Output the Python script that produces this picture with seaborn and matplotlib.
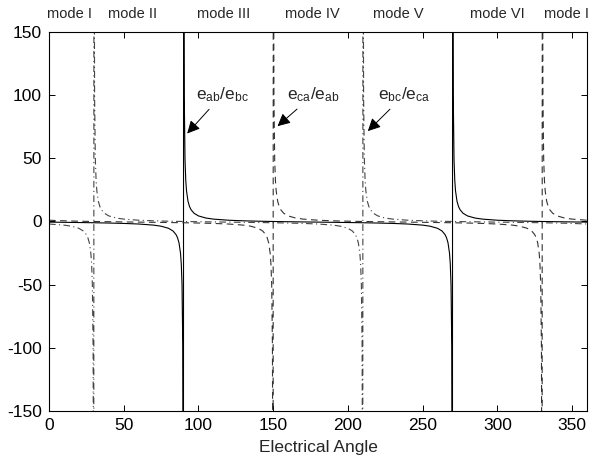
import numpy as np
import pandas as pd
import matplotlib
matplotlib.use('Agg')
import matplotlib.pyplot as plt
import seaborn as sns

# values (ratios of line voltages vs. angle)
angle_ab_bc = [0, 10, 20, 30, 40, 50, 60, 70, 75, 80, 83, 85, 86, 87, 88, 88.5, 89, 89.5, 89.8, 89.9,
               90.1, 90.2, 90.5, 91, 91.5, 92, 93, 94, 95, 97, 100, 105, 110, 120, 130, 140, 150, 160, 170,
               180, 190, 200, 210, 220, 230, 240, 250, 255, 260, 263, 265, 266, 267, 268, 268.5, 269, 269.5, 269.8, 269.9,
               270.1, 270.2, 270.5, 271, 271.5, 272, 273, 274, 275, 277, 280, 285, 290, 300, 310, 320, 330, 340, 350, 360]
ratio_ab_bc = [-0.5, -0.653, -0.815, -1.0, -1.227, -1.532, -2.0, -2.879, -3.732, -5.411, -7.553, -10.4, -12.88, -17.02, -25.3, -33.57, -50.11, -99.74, -248.6, -496.7,
               495.8, 247.6, 98.73, 49.11, 32.57, 24.3, 16.02, 11.88, 9.4, 6.55, 4.41, 2.73, 1.88, 1.0, 0.532, 0.227, 0.0, -0.185, -0.347,
               -0.5, -0.653, -0.815, -1.0, -1.227, -1.532, -2.0, -2.879, -3.732, -5.411, -7.553, -10.4, -12.88, -17.02, -25.3, -33.57, -50.11, -99.74, -248.6, -496.7,
               495.8, 247.6, 98.73, 49.11, 32.57, 24.3, 16.02, 11.88, 9.4, 6.55, 4.41, 2.73, 1.88, 1.0, 0.532, 0.227, 0.0, -0.185, -0.347, -0.5]

angle_ca_ab = [0, 10, 20, 30, 40, 50, 60, 70, 80, 90, 100, 110, 120, 130, 135, 140, 143, 145, 146, 147, 148, 148.5, 149, 149.5, 149.8, 149.9,
               150.1, 150.2, 150.5, 151, 151.5, 152, 153, 154, 155, 157, 160, 165, 170,
               180, 190, 200, 210, 220, 230, 240, 250, 260, 270, 280, 290, 300, 310, 315, 320, 323, 325, 326, 327, 328, 328.5, 329, 329.5, 329.8, 329.9,
               330.1, 330.2, 330.5, 331, 331.5, 332, 333, 334, 335, 337, 340, 345, 350, 360]
ratio_ca_ab = [1.0, 0.532, 0.227, 0.0, -0.185, -0.347, -0.5, -0.653, -0.815, -1.0, -1.227, -1.532, -2.0, -2.879, -3.732, -5.411, -7.553, -10.4, -12.88, -17.02, -25.3, -33.57, -50.11, -99.74, -248.6, -496.7,
               495.8, 247.6, 98.73, 49.11, 32.57, 24.3, 16.02, 11.88, 9.4, 6.55, 4.41, 2.73, 1.88,
               1.0, 0.532, 0.227, 0.0, -0.185, -0.347, -0.5, -0.653, -0.815, -1.0, -1.227, -1.532, -2.0, -2.879, -3.732, -5.411, -7.553, -10.4, -12.88, -17.02, -25.3, -33.57, -50.11, -99.74, -248.6, -496.7,
               495.8, 247.6, 98.73, 49.11, 32.57, 24.3, 16.02, 11.88, 9.4, 6.55, 4.41, 2.73, 1.88, 1.0]

angle_bc_ca = [0, 10, 15, 20, 23, 25, 26, 27, 28, 28.5, 29, 29.5, 29.8, 29.9,
               30.1, 30.2, 30.5, 31, 31.5, 32, 33, 34, 35, 37, 40, 45, 50, 60, 70, 80, 90, 100, 110,
               120, 130, 140, 150, 160, 170, 180, 190, 195, 200, 203, 205, 206, 207, 208, 208.5, 209, 209.5, 209.8, 209.9,
               210.1, 210.2, 210.5, 211, 211.5, 212, 213, 214, 215, 217, 220, 225, 230, 240, 250, 260, 270, 280, 290,
               300, 310, 320, 330, 340, 350, 360]
ratio_bc_ca = [-2.0, -2.879, -3.732, -5.411, -7.553, -10.4, -12.88, -17.02, -25.3, -33.57, -50.11, -99.74, -248.6, -496.7,
               495.8, 247.6, 98.73, 49.11, 32.57, 24.3, 16.02, 11.88, 9.4, 6.55, 4.41, 2.73, 1.88, 1.0, 0.532, 0.227, 0.0, -0.185, -0.347,
               -0.5, -0.653, -0.815, -1.0, -1.227, -1.532, -2.0, -2.879, -3.732, -5.411, -7.553, -10.4, -12.88, -17.02, -25.3, -33.57, -50.11, -99.74, -248.6, -496.7,
               495.8, 247.6, 98.73, 49.11, 32.57, 24.3, 16.02, 11.88, 9.4, 6.55, 4.41, 2.73, 1.88, 1.0, 0.532, 0.227, 0.0, -0.185, -0.347,
               -0.5, -0.653, -0.815, -1.0, -1.227, -1.532, -2.0]

mode_names = ['mode I', 'mode II', 'mode III', 'mode IV', 'mode V', 'mode VI', 'mode I']
mode_pos = [14, 56, 117, 176, 234, 300, 331.5]

sns.set_theme(style='ticks')
plt.rcParams['font.family'] = ['Liberation Sans', 'DejaVu Sans']
plt.rcParams['mathtext.default'] = 'regular'
plt.rcParams['axes.unicode_minus'] = False
plt.rcParams['xtick.direction'] = 'in'
plt.rcParams['ytick.direction'] = 'in'

fig = plt.figure(figsize=(5.92, 4.61), dpi=100)
ax = fig.add_axes([0.0828, 0.1085, 0.9088, 0.8221])

curves = [(angle_ab_bc, ratio_ab_bc, '-', 'black'),
          (angle_ca_ab, ratio_ca_ab, (0, (6, 4)), '#333333'),
          (angle_bc_ca, ratio_bc_ca, (0, (6, 3, 1, 3)), '#444444')]
for ang, val, ls, col in curves:
    d = pd.DataFrame({'angle': ang, 'ratio': val})
    sns.lineplot(data=d, x='angle', y='ratio', ax=ax, sort=False, estimator=None,
                 color=col, linewidth=0.8, linestyle=ls)

ax.set_xlim(0, 360)
ax.set_ylim(-150, 150)
ax.set_xticks(np.arange(0, 351, 50))
ax.set_yticks(np.arange(-150, 151, 50))
ax.tick_params(labelsize=12.5, length=4, width=0.7, top=True, right=True, colors='black', pad=5)
for s in ax.spines.values():
    s.set_visible(True)
    s.set_linewidth(0.8)
    s.set_color('black')
ax.set_xlabel('Electrical Angle', fontsize=12.5, labelpad=5)
ax.set_ylabel('')

for name, pos in zip(mode_names, mode_pos):
    ax.text(pos, 164, name, fontsize=10.5, ha='left' if pos > 330 else 'center', va='center', clip_on=False)

arrow = dict(arrowstyle='-|>', color='black', lw=0.7, mutation_scale=19)
ax.annotate('e$_{ab}$/e$_{bc}$', xy=(91.2, 68), xytext=(116, 93), fontsize=12.5,
            ha='center', va='bottom', arrowprops=arrow)
ax.annotate('e$_{ca}$/e$_{ab}$', xy=(151.5, 74), xytext=(177, 93), fontsize=12.5,
            ha='center', va='bottom', arrowprops=arrow)
ax.annotate('e$_{bc}$/e$_{ca}$', xy=(212, 70), xytext=(238, 93), fontsize=12.5,
            ha='center', va='bottom', arrowprops=arrow)

fig.savefig('out.png', dpi=100)
